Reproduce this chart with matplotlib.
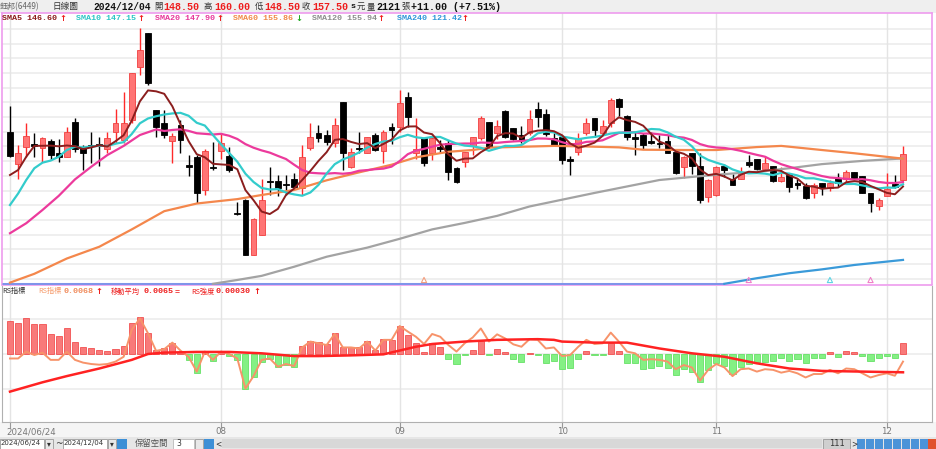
import numpy as np
import pandas as pd
import matplotlib
matplotlib.use("Agg")
import matplotlib.pyplot as plt
from matplotlib.patches import Rectangle
import matplotlib.transforms as mtransforms

CJK = ['Noto Sans CJK TC', 'DejaVu Sans']
MONO = ['Liberation Mono', 'DejaVu Sans Mono']
plt.rcParams['font.family'] = CJK

# ---- daily candles 2024/06/24 .. 2024/12/04 (111 trading days) ----
opens = [165.0, 154.0, 159.9, 161.0, 159.4, 162.0, 157.7, 156.5, 168.4, 159.4,
         160.5, 160.9, 159.0, 165.0, 162.2, 169.0, 187.2, 198.7, 172.4, 167.9,
         162.0, 167.3, 153.6, 156.5, 145.2, 153.1, 158.6, 156.8, 137.5, 141.8,
         123.1, 129.9, 148.2, 148.3, 147.3, 148.8, 145.8, 159.4, 164.7, 163.9,
         161.1, 175.3, 153.1, 159.6, 157.9, 163.9, 158.6, 166.7, 166.7, 176.7,
         157.7, 162.8, 157.7, 159.9, 161.3, 152.6, 154.8, 160.2, 162.8, 168.4,
         164.5, 172.2, 166.2, 163.9, 164.5, 172.6, 170.9, 162.8, 163.1, 155.7,
         158.2, 164.7, 169.6, 164.7, 167.9, 176.1, 170.4, 163.1, 163.9, 162.0,
         161.3, 162.0, 158.2, 153.1, 157.7, 153.4, 142.9, 143.5, 153.4, 148.8,
         148.8, 154.8, 155.6, 152.2, 153.4, 148.4, 150.3, 147.7, 146.6, 144.1,
         147.5, 145.8, 149.2, 148.8, 151.4, 150.0, 144.3, 139.8, 143.0, 147.3,
         148.5]
highs = [173.6, 160.5, 167.9, 164.5, 163.3, 162.4, 162.4, 166.5, 169.6, 160.5,
         165.0, 163.1, 165.0, 172.6, 178.7, 184.9, 200.2, 198.7, 172.4, 172.4,
         164.5, 169.0, 157.1, 157.1, 159.0, 161.6, 164.5, 159.9, 141.2, 142.0,
         135.7, 148.8, 153.1, 150.3, 150.3, 151.1, 160.5, 168.1, 167.3, 165.6,
         169.6, 175.3, 159.4, 165.0, 163.3, 164.5, 165.6, 167.9, 179.2, 178.7,
         169.6, 162.8, 163.9, 162.2, 162.2, 153.1, 158.2, 163.1, 170.2, 168.4,
         169.0, 172.4, 166.2, 167.0, 172.4, 175.3, 172.6, 164.5, 163.1, 156.8,
         164.5, 169.6, 169.6, 169.0, 176.4, 176.4, 170.7, 165.0, 164.5, 165.0,
         163.9, 163.9, 158.8, 156.8, 157.9, 157.7, 148.8, 153.4, 154.0, 150.6,
         153.1, 157.1, 155.6, 156.8, 153.4, 153.1, 150.6, 148.8, 147.5, 147.5,
         147.5, 148.6, 150.9, 152.0, 151.4, 150.0, 144.3, 142.4, 150.9, 150.3,
         160.0]
lows = [156.5, 148.8, 156.5, 156.5, 154.8, 155.4, 154.8, 156.5, 158.2, 152.0,
        154.3, 153.4, 157.7, 161.1, 161.1, 167.9, 184.3, 180.9, 163.3, 162.8,
        154.3, 157.7, 150.0, 140.9, 143.5, 152.0, 155.6, 151.4, 136.7, 123.0,
        123.0, 129.9, 143.5, 143.1, 143.5, 145.8, 143.5, 158.8, 161.6, 160.5,
        159.9, 152.0, 152.6, 157.7, 157.7, 158.6, 154.3, 160.9, 165.0, 166.7,
        155.9, 153.4, 155.4, 157.7, 148.6, 147.7, 153.1, 157.1, 162.2, 159.4,
        162.4, 162.8, 162.2, 161.3, 163.9, 166.7, 163.6, 160.2, 154.0, 150.3,
        157.1, 163.9, 163.3, 164.2, 166.7, 170.2, 162.2, 157.1, 159.0, 160.8,
        159.4, 157.7, 150.8, 149.2, 150.6, 140.9, 141.2, 143.1, 149.7, 146.9,
        148.8, 153.1, 152.0, 152.0, 148.0, 148.0, 144.6, 145.4, 142.0, 142.4,
        143.5, 145.0, 146.3, 148.0, 148.8, 144.1, 137.8, 138.4, 143.0, 145.8,
        148.5]
closes = [156.8, 157.7, 163.6, 160.3, 162.8, 157.1, 156.5, 165.0, 159.0, 157.9,
          160.0, 160.2, 162.8, 168.1, 168.1, 184.9, 192.8, 181.5, 166.5, 163.9,
          163.6, 162.2, 152.9, 144.3, 158.6, 152.6, 161.1, 152.0, 137.0, 123.1,
          135.4, 141.8, 147.8, 145.8, 146.8, 146.3, 156.5, 163.1, 162.8, 161.6,
          167.3, 157.9, 158.2, 159.2, 163.1, 158.8, 165.0, 165.6, 174.7, 169.9,
          159.0, 154.5, 162.8, 159.0, 151.4, 148.0, 158.2, 163.1, 169.6, 159.7,
          167.0, 163.3, 162.4, 162.2, 169.2, 169.9, 164.2, 160.5, 155.4, 155.2,
          162.4, 167.9, 165.6, 167.0, 175.8, 173.3, 163.1, 162.6, 160.5, 161.3,
          160.8, 157.9, 151.1, 156.5, 153.4, 141.8, 148.6, 153.1, 152.0, 146.9,
          151.4, 153.7, 152.2, 154.5, 148.4, 149.5, 146.1, 146.8, 142.4, 146.9,
          145.8, 147.5, 147.5, 151.4, 148.8, 144.3, 140.9, 141.8, 145.4, 146.3,
          157.5]

# month ticks
tick_idx = [0, 26, 48, 68, 87, 108]
tick_lbl = ['2024/06/24', '08', '09', '10', '11', '12']

sma5_head_idx = [0, 1, 2, 3]
sma5_head = [150.3, 152.0, 156.5, 160.2]
sma10_head_idx = [0, 1, 2, 3, 4, 5, 6, 7, 8]
sma10_head = [140.1, 144.0, 148.6, 152.6, 154.5, 155.2, 156.5, 158.8, 159.9]
sma20_head_idx = [0, 2, 4, 6, 8, 10, 12, 14, 16, 18]
sma20_head = [130.5, 133.9, 138.4, 143.2, 148.8, 153.1, 157.1, 160.2, 163.9, 165.8]
sma60_idx = [0, 3, 7, 11, 15, 19, 23, 28, 31, 35, 39, 43, 47, 50, 54, 57, 59, 63,
             67, 71, 75, 78, 83, 87, 92, 95, 100, 104, 110]
sma60 = [113.7, 116.7, 121.9, 125.9, 131.8, 138.0, 140.6, 142.1, 143.5, 145.2,
         148.5, 151.2, 153.8, 156.3, 158.2, 158.8, 159.6, 159.9, 160.2, 160.0,
         159.7, 158.9, 158.8, 158.8, 159.8, 160.2, 158.8, 157.7, 155.86]
sma120_idx = [25, 28, 31, 35, 39, 44, 48, 52, 56, 60, 64, 68, 72, 76, 80, 85, 88,
              92, 96, 100, 105, 110]
sma120 = [113.3, 114.6, 116.0, 119.1, 122.5, 125.6, 128.6, 131.8, 134.0, 136.4,
          139.6, 141.9, 144.2, 146.4, 148.6, 149.9, 150.6, 151.4, 152.6, 154.0,
          155.1, 155.94]
sma240_idx = [88, 92, 96, 100, 104, 110]
sma240 = [113.3, 115.2, 116.9, 118.2, 119.7, 121.42]

# signal triangles on the bottom edge
sig_idx = [51, 91, 101, 106]
sig_col = ['#f4a080', '#f080c8', '#60d4e4', '#f080c8']

# ---- RS indicator panel ----
rs_strength = [0.97, 0.91, 1.05, 0.86, 0.86, 0.57, 0.52, 0.74, 0.34, 0.21,
               0.16, 0.12, 0.10, 0.14, 0.24, 0.89, 1.08, 0.62, 0.12, 0.16,
               0.31, 0.05, -0.17, -0.54, 0.03, -0.20, 0.05, -0.06, -0.17, -1.01,
               -0.68, -0.22, -0.15, -0.39, -0.32, -0.37, 0.23, 0.39, 0.36, 0.29,
               0.62, 0.21, 0.21, 0.19, 0.38, 0.12, 0.43, 0.42, 0.81, 0.55,
               0.33, 0.07, 0.31, 0.21, -0.15, -0.29, -0.04, 0.12, 0.39, -0.04,
               0.15, 0.05, -0.15, -0.22, 0.04, -0.02, -0.25, -0.20, -0.44, -0.40,
               -0.15, 0.10, -0.03, -0.03, 0.31, 0.08, -0.27, -0.27, -0.44, -0.42,
               -0.35, -0.42, -0.61, -0.44, -0.51, -0.80, -0.46, -0.25, -0.35, -0.58,
               -0.39, -0.29, -0.22, -0.22, -0.19, -0.13, -0.19, -0.15, -0.25, -0.13,
               -0.13, 0.05, -0.10, 0.09, 0.05, -0.06, -0.19, -0.13, -0.06, -0.13,
               0.31]
rs_index = [-0.13, -0.13, 0.07, -0.03, 0.04, -0.17, -0.17, 0.07, -0.17, -0.25,
            -0.29, -0.31, -0.29, -0.22, -0.08, 0.70, 1.03, 0.60, 0.09, 0.14,
            0.33, 0.10, -0.08, -0.51, 0.07, -0.17, 0.07, 0.00, -0.13, -1.00,
            -0.64, -0.17, -0.13, -0.37, -0.29, -0.35, 0.19, 0.36, 0.31, 0.26,
            0.58, 0.19, 0.19, 0.16, 0.36, 0.10, 0.41, 0.41, 0.81, 0.65,
            0.50, 0.29, 0.58, 0.50, 0.26, 0.07, 0.31, 0.48, 0.74, 0.36,
            0.57, 0.45, 0.28, 0.21, 0.43, 0.41, 0.16, 0.19, -0.06, -0.03,
            0.21, 0.41, 0.29, 0.31, 0.62, 0.36, 0.07, 0.02, -0.17, -0.15,
            -0.17, -0.22, -0.44, -0.32, -0.39, -0.77, -0.46, -0.29, -0.39, -0.64,
            -0.44, -0.42, -0.51, -0.44, -0.46, -0.54, -0.49, -0.56, -0.68, -0.58,
            -0.58, -0.46, -0.56, -0.42, -0.44, -0.56, -0.68, -0.61, -0.56, -0.63,
            -0.22]
rs_ma_idx = [0, 4, 7, 11, 15, 17, 19, 23, 27, 31, 35, 38, 42, 46, 50, 52, 56, 60,
             65, 67, 68, 72, 76, 80, 84, 88, 92, 96, 100, 105, 110]
rs_ma = [-1.09, -0.82, -0.64, -0.42, -0.17, 0.00, 0.04, 0.06, 0.06, 0.02, -0.06,
         -0.06, -0.04, -0.01, 0.21, 0.29, 0.36, 0.41, 0.43, 0.41, 0.36, 0.33,
         0.33, 0.16, 0.02, -0.08, -0.27, -0.42, -0.49, -0.51, -0.53]
# chart scale: bars in units of 0.001, lines offset around 0.0070
RS_UNIT = 0.001
RS_BASE = 0.0070

W, H = 936, 449
def fx(x):
    return x / W
def fy(y):
    return 1 - y / H

fig = plt.figure(figsize=(W / 100, H / 100), dpi=100, facecolor='white')

# background strips (below the axes)
fig.patches.append(Rectangle((0, fy(12.5)), 1, 12.5 / H, transform=fig.transFigure,
                             facecolor='#efefef', edgecolor='none', zorder=-1))
fig.patches.append(Rectangle((0, fy(437)), 1, (437 - 422) / H, transform=fig.transFigure,
                             facecolor='#f5f5f5', edgecolor='none', zorder=-1))

n = len(closes)
idx = np.arange(n)
step = (903 - 10) / 110
x0 = 0 - (10 - 2) / step
x1 = 110 + (932 - 903) / step

# ---------------- main price panel ----------------
ax = fig.add_axes([fx(2), fy(284.5), (932 - 2) / W, (284.5 - 13) / H])
ax.set_xlim(x0, x1)
ax.set_ylim(113.06, 205.4)
for p in np.arange(115, 205, 5):
    ax.axhline(p, color='#ececec', lw=1.2, zorder=0)
for tk in tick_idx:
    ax.axvline(tk, color='#e4e4e4', lw=1, zorder=0)
ax.set_xticks([])
ax.set_yticks([])
for s in ax.spines.values():
    s.set_color('#ee9cee')
    s.set_linewidth(1.2)

o = np.array(opens); h = np.array(highs); l = np.array(lows); c = np.array(closes)
up = c >= o
wick_col = np.where(up, '#ff2a2a', '#000000')
ax.vlines(idx, l, h, colors=wick_col, lw=1, zorder=2)
body_h = np.maximum(np.abs(c - o), 0.35)
body_b = np.minimum(o, c)
ax.bar(idx[up], body_h[up], bottom=body_b[up], width=0.72,
       color='#ff7474', edgecolor='#f04040', lw=0.6, zorder=3)
ax.bar(idx[~up], body_h[~up], bottom=body_b[~up], width=0.72,
       color='#000000', edgecolor='#000000', lw=0.6, zorder=3)

cs = pd.Series(closes)
def ma_line(head_idx, head_vals, win):
    roll = cs.rolling(win).mean()
    xs = list(head_idx) + list(range(win - 1, n))
    ys = list(head_vals) + list(roll.iloc[win - 1:])
    return xs, ys

# clipped 240-day line lies on the bottom edge before it enters
ax.hlines(113.3, x0, sma240_idx[0], colors='#7f94ea', lw=2.2, zorder=4)
ax.plot(sma240_idx, sma240, color='#3a9ad9', lw=1.6, zorder=4)
ax.plot(sma120_idx, sma120, color='#a3a3a3', lw=1.6, zorder=4)
ax.plot(sma60_idx, sma60, color='#f4874c', lw=1.6, zorder=4)
xs, ys = ma_line(sma20_head_idx, sma20_head, 20)
ax.plot(xs, ys, color='#ec3a9c', lw=1.6, zorder=5)
xs, ys = ma_line(sma10_head_idx, sma10_head, 10)
ax.plot(xs, ys, color='#33cccc', lw=1.6, zorder=5)
xs, ys = ma_line(sma5_head_idx, sma5_head, 5)
ax.plot(xs, ys, color='#8b1e1e', lw=1.4, zorder=6)

ax.scatter(sig_idx, [114.6] * len(sig_idx), marker='^', s=14, facecolors='none',
           edgecolors=sig_col, linewidths=0.8, zorder=7)

# ---------------- RS panel ----------------
ax2 = fig.add_axes([fx(2), fy(422), (932 - 2) / W, (422 - 286) / H])
ax2.set_xlim(x0, x1)
ax2.set_ylim(-1.97 * RS_UNIT, 1.97 * RS_UNIT)
for v in (-1, 0, 1):
    ax2.axhline(v * RS_UNIT, color='#ececec', lw=1.2, zorder=0)
for tk in tick_idx:
    ax2.axvline(tk, color='#e4e4e4', lw=1, zorder=0)
ax2.set_yticks([])
for k, s in ax2.spines.items():
    s.set_color('#b0b0b0')
ax2.spines['top'].set_visible(False)

bars = np.array(rs_strength) * RS_UNIT
pos = bars >= 0
ax2.bar(idx[pos], bars[pos], width=0.75, color='#f87a7a', edgecolor='#f03c3c', lw=0.5, zorder=2)
ax2.bar(idx[~pos], bars[~pos], width=0.75, color='#84f084', edgecolor='#55dd55', lw=0.5, zorder=2)

rs_vals = RS_BASE + np.array(rs_index) * RS_UNIT
ma_vals = RS_BASE + np.array(rs_ma) * RS_UNIT
ax2.plot(idx, rs_vals - RS_BASE, color='#f7936a', lw=1.4, zorder=3)
ax2.plot(rs_ma_idx, ma_vals - RS_BASE, color='#ff2222', lw=1.8, zorder=4)

ax2.set_xticks(tick_idx)
ax2.tick_params(axis='x', direction='out', length=4, color='#999999', labelbottom=False)
tr = mtransforms.blended_transform_factory(ax2.transData, fig.transFigure)
for tk, lab in zip(tick_idx, tick_lbl):
    if tk == 0:
        ax2.text(tk - 0.5, fy(432), lab, transform=tr, ha='left', va='center',
                 fontsize=6.2, color='#777777', family=['DejaVu Sans'])
    else:
        ax2.text(tk, fy(432), lab, transform=tr, ha='center', va='center',
                 fontsize=6.2, color='#777777', family=['DejaVu Sans'])

# ---------------- header texts ----------------
RED = '#ee1c1c'
def t(x, y, s, col='#333333', size=6.2, bold=False, fam=None):
    fig.text(fx(x), fy(y), s, ha='left', va='center', color=col, fontsize=size,
             fontweight='bold' if bold else 'normal', family=fam or CJK)

t(0, 6.5, '鈺邦(6449)', '#666666', 5.8)
t(52, 6.5, '日線圖', '#333333', 6.2)
t(93, 6.5, '2024/12/04', '#111111', 6.9, True, MONO)
for x, lab in ((154, '開'), (204, '高'), (255, '低'), (302, '收')):
    t(x, 6.5, lab, '#333333', 6.0)
for x, val in ((163, '148.50'), (214, '160.00'), (264, '148.50'), (312, '157.50')):
    t(x, 6.5, val, RED, 7.2, True, MONO)
t(350.5, 6.5, 's', '#111111', 6.0, True, MONO)
t(357, 6.5, '元', '#333333', 6.0)
t(367, 6.5, '量', '#333333', 6.0)
t(376, 6.5, '2121', '#111111', 7.2, True, MONO)
t(401, 6.5, '張', '#333333', 6.0)
t(411, 6.5, '+11.00 (+7.51%)', '#111111', 7.2, True, MONO)

sma_row = [(2, 'SMA5 146.60', '#8b1a1a', 59, '↑', RED),
           (76, 'SMA10 147.15', '#2cc5c5', 137.5, '↑', RED),
           (155, 'SMA20 147.90', '#e6369a', 216, '↑', RED),
           (233, 'SMA60 155.86', '#f08848', 295, '↓', '#22aa22'),
           (312, 'SMA120 155.94', '#8c8c8c', 377.5, '↑', RED),
           (397, 'SMA240 121.42', '#2f96d8', 461.5, '↑', RED)]
for x, s, col, arr_x, arr, acol in sma_row:
    t(x, 18.5, s, col, 6.0, True, MONO)
    t(arr_x, 18.5, arr, acol, 6.0, True, ['DejaVu Sans'])

t(2, 291.5, 'RS指標', '#333333', 5.2)
t(38, 291.5, 'RS指標', '#f59a6a', 5.2)
t(63, 291.5, '0.0068', '#f08a5a', 6.0, True, MONO)
t(95, 291.5, '↑', RED, 6.0, True, ['DejaVu Sans'])
t(111, 291.5, '移動平均', RED, 5.2)
t(143, 291.5, '0.0065', RED, 6.0, True, MONO)
t(175, 291.5, '=', RED, 6.0, True, MONO)
t(191, 291.5, 'RS強度', RED, 5.2)
t(216, 291.5, '0.00030', RED, 6.0, True, MONO)
t(253, 291.5, '↑', RED, 6.0, True, ['DejaVu Sans'])

# ---------------- bottom toolbar ----------------
def box(x, y, w, hh, fc, ec='none', z=1):
    fig.patches.append(Rectangle((fx(x), fy(y + hh)), w / W, hh / H, transform=fig.transFigure,
                                 facecolor=fc, edgecolor=ec, lw=0.6, zorder=z))

box(0, 437, 936, 12, '#e6e6e6', z=0)
box(0, 438.5, 44, 10, 'white', '#9a9a9a')
t(1, 443.5, '2024/06/24', '#333333', 5.0, False, ['DejaVu Sans'])
box(45, 438.5, 8, 10, '#e8e8e8', '#9a9a9a')
t(46.5, 443.5, '▾', '#333333', 5.5, False, ['DejaVu Sans'])
t(55, 443.5, '~', '#333333', 6.5, False, ['DejaVu Sans'])
box(63, 438.5, 44, 10, 'white', '#9a9a9a')
t(64, 443.5, '2024/12/04', '#333333', 5.0, False, ['DejaVu Sans'])
box(108, 438.5, 8, 10, '#e8e8e8', '#9a9a9a')
t(109.5, 443.5, '▾', '#333333', 5.5, False, ['DejaVu Sans'])
box(117, 438.5, 10, 10, '#3d8fd6')
t(135, 443.5, '保留空間', '#555555', 6.0)
box(173, 438.5, 21, 10, 'white', '#bbbbbb')
t(176, 443.5, '3', '#333333', 5.5, False, ['DejaVu Sans'])
box(195, 438.5, 8, 10, '#e8e8e8', '#9a9a9a')
box(204, 438.5, 10, 10, '#3d8fd6')
t(215, 443.5, '<', '#333333', 5.5, False, ['DejaVu Sans'])
box(222, 439, 600, 9, '#d8d8d8')
box(823, 438.5, 27, 10, '#cfcfcf', '#999999')
t(829, 443.5, '111', '#333333', 6.0, False, ['DejaVu Sans'])
t(851, 443.5, '>', '#333333', 5.5, False, ['DejaVu Sans'])
icon_x = [857, 866, 875, 884, 893, 902, 911, 920, 928]
icon_c = ['#4b93d8'] * 8 + ['#e0522c']
for x, col in zip(icon_x, icon_c):
    box(x, 438.5, 8, 10, col)

fig.savefig('out.png', dpi=100, facecolor='white')
